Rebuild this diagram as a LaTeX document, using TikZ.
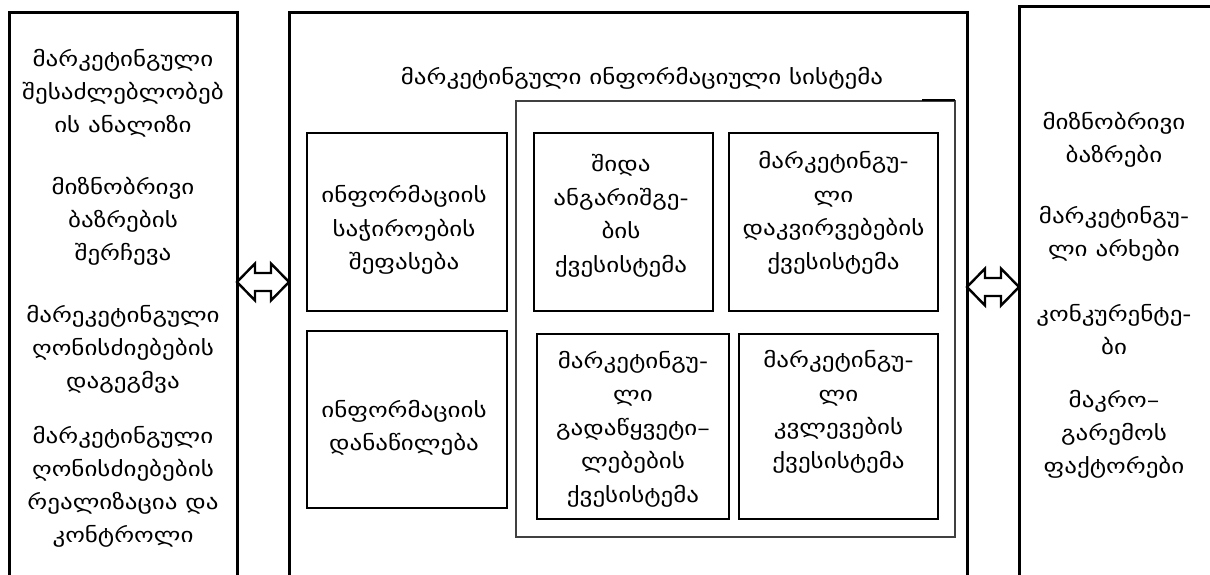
\documentclass[tikz,border=0pt]{standalone}
\usepackage{fontspec}
\setmainfont[FakeStretch=1.22]{DejaVu Sans}
\usetikzlibrary{calc}
\begin{document}
\begin{tikzpicture}[x=1pt,y=-1pt,
  outer/.style={line width=3pt,line cap=rect},
  inbox/.style={draw,line width=1.4pt},
  txt/.style={align=center,inner sep=0pt,font=\fontsize{20.5}{33}\selectfont},
  itxt/.style={align=center,inner sep=0pt,font=\fontsize{20.5}{33.5}\selectfont},
  dbl/.style={draw,line width=2.4pt,line join=miter,fill=white}]
\useasboundingbox (0,0) rectangle (1210,574);
% outer frames (open at bottom)
\coordinate (Lbl) at (9,580); \coordinate (Ltl) at (9,12);
\coordinate (Ltr) at (237,12); \coordinate (Lbr) at (237,580);
\draw[outer] (Lbl) -- (Ltl) -- (Ltr) -- (Lbr);
\coordinate (Mbl) at (289,580); \coordinate (Mtl) at (289,12);
\coordinate (Mtr) at (967,12); \coordinate (Mbr) at (967,580);
\draw[outer] (Mbl) -- (Mtl) -- (Mtr) -- (Mbr);
\coordinate (Rbl) at (1019,580); \coordinate (Rtl) at (1019,6);
\coordinate (Rtr) at (1215,6);
\draw[outer] (Rbl) -- (Rtl) -- (Rtr);
% inner container
\draw[line width=1.3pt,black!75] (516,101) rectangle (955,537);
\draw[line width=1.3pt] (922,100) -- (955,100);
% inner boxes
\node[inbox,minimum width=200pt,minimum height=178pt] (A) at (407,222) {};
\node[inbox,minimum width=179pt,minimum height=178pt] (B) at (623.5,222) {};
\node[inbox,minimum width=209pt,minimum height=178pt] (C) at (833.5,222) {};
\node[inbox,minimum width=200pt,minimum height=177pt] (D) at (407,419.5) {};
\node[inbox,minimum width=192pt,minimum height=185pt] (E) at (633,426.5) {};
\node[inbox,minimum width=199pt,minimum height=185pt] (F) at (838.5,426.5) {};
\node[itxt] (At) at (404,230) {ინფორმაციის\\საჭიროების\\შეფასება};
\node[itxt] (Bt) at (621,216) {შიდა\\ანგარიშგე-\\ბის\\ქვესისტემა};
\node[itxt] (Ct) at (833.5,213) {მარკეტინგუ-\\ლი\\დაკვირვებების\\ქვესისტემა};
\node[itxt] (Dt) at (404,428) {ინფორმაციის\\დანაწილება};
\node[itxt] (Et) at (633,429) {მარკეტინგუ-\\ლი\\გადაწყვეტი–\\ლებების\\ქვესისტემა};
\node[itxt] (Ft) at (838.5,412) {მარკეტინგუ-\\ლი\\კვლევების\\ქვესისტემა};
% title
\node[txt] (title) at (642,78) {მარკეტინგული ინფორმაციული სისტემა};
% left texts
\node[txt] (L1) at (123,93) {მარკეტინგული\\შესაძლებლობებ\\ის ანალიზი};
\node[txt] (L2) at (123,221) {მიზნობრივი\\ბაზრების\\შერჩევა};
\node[txt] (L3) at (123,349) {მარეკეტინგული\\ღონისძიებების\\დაგეგმვა};
\node[txt] (L4) at (123,487) {მარკეტინგული\\ღონისძიებების\\რეალიზაცია და\\კონტროლი};
% right texts
\node[txt] (R1) at (1114,140) {მიზნობრივი\\ბაზრები};
\node[txt] (R2) at (1114,234) {მარკეტინგუ-\\ლი არხები};
\node[txt] (R3) at (1114,330) {კონკურენტე-\\ბი};
\node[txt] (R4) at (1114,434) {მაკრო–\\გარემოს\\ფაქტორები};
% double arrows
\coordinate (la) at (237,282); \coordinate (lb) at (289,282);
\draw[dbl] (la) -- ++(18,-18.5) -- ++(0,9.5) -- ($(lb)+(-18,-9)$) -- ($(lb)+(-18,-18.5)$) -- (lb)
  -- ($(lb)+(-18,18.5)$) -- ($(lb)+(-18,9)$) -- ($(la)+(18,9)$) -- ($(la)+(18,18.5)$) -- cycle;
\coordinate (ra) at (967,287); \coordinate (rb) at (1019,287);
\draw[dbl] (ra) -- ++(18,-18.5) -- ++(0,9.5) -- ($(rb)+(-18,-9)$) -- ($(rb)+(-18,-18.5)$) -- (rb)
  -- ($(rb)+(-18,18.5)$) -- ($(rb)+(-18,9)$) -- ($(ra)+(18,9)$) -- ($(ra)+(18,18.5)$) -- cycle;
\end{tikzpicture}
\end{document}
